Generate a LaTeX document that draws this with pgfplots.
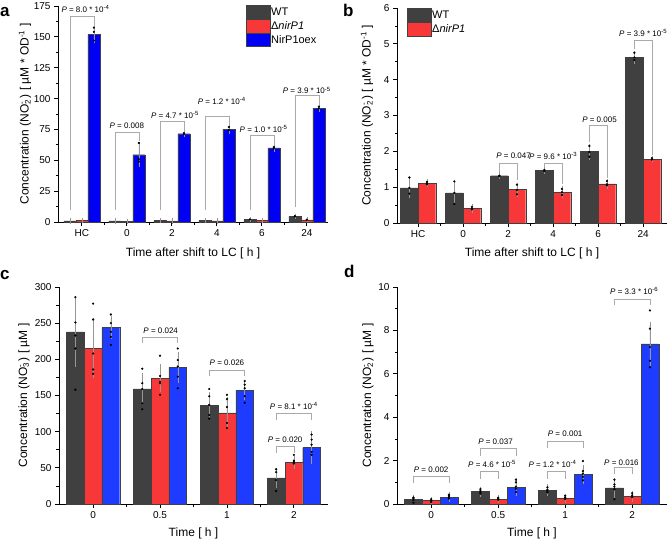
\documentclass[border=0pt]{standalone}
\usepackage{fontspec}
\setmainfont{Liberation Sans}
\usepackage{pgfplots}
\pgfplotsset{compat=1.18}
\definecolor{cwt}{RGB}{64,64,64}
\definecolor{cred}{RGB}{248,56,56}
\definecolor{cblueA}{RGB}{0,0,245}
\definecolor{cblue}{RGB}{30,60,255}
\definecolor{errc}{RGB}{150,150,150}
\definecolor{brc}{RGB}{170,170,170}
\pgfplotsset{
  panel/.style={scale only axis, axis x line=bottom, axis y line=left,
    axis line style={black, line width=0.8pt, -}, tick align=outside,
    tick style={black, line width=0.8pt}, major tick length=4pt, minor tick length=2.5pt,
    ticklabel style={font=\fontsize{10}{12}\selectfont},
    label style={font=\fontsize{12}{14}\selectfont},
    /pgf/number format/assume math mode=true, clip=false, ymin=0,
    minor y tick num=1,
    legend cell align=left,
    legend image code/.code={\fill[##1] (0pt,-6.75pt) rectangle (24pt,6.75pt);},
    legend style={draw=none, fill=none, inner sep=0pt, row sep=0pt,
      font=\fontsize{11}{13}\selectfont, nodes={inner sep=0.6pt}}},
  mybar/.style={ybar, bar width=#1, bar shift=0pt, draw=black!75, line width=0.4pt,
    error bars/.cd, y dir=both, y explicit,
    error bar style={errc, line width=0.5pt},
    error mark options={errc, mark size=2.5pt, line width=0.5pt}},
  dots/.style={only marks, mark=*, mark size=0.9pt, black, mark options={fill=black}, forget plot},
}
\newcommand{\brk}[8]{%
  \draw[brc, line width=0.6pt] (axis cs:#1,#2) -- (axis cs:#1,#5) -- (axis cs:#3,#5) -- (axis cs:#3,#4);
  \node[font=\fontsize{8}{9}\selectfont, inner sep=0pt, anchor=center] at (axis cs:#7,#6) {#8};}
\newcommand{\Pv}{\textit{P}}
\newcommand{\ylabA}{Concentration (NO\rlap{\textsubscript{2}}\textsuperscript{-}\kern0.25em) [ µM * OD\textsuperscript{-1} ]}
\begin{document}
\begin{tikzpicture}
\useasboundingbox (0,0) rectangle (667pt,542pt);
\node[anchor=base west, font=\fontsize{17}{20}\selectfont\bfseries, inner sep=0pt] at (0pt,525pt) {a};
\node[anchor=base west, font=\fontsize{17}{20}\selectfont\bfseries, inner sep=0pt] at (343pt,525pt) {b};
\node[anchor=base west, font=\fontsize{17}{20}\selectfont\bfseries, inner sep=0pt] at (0pt,263pt) {c};
\node[anchor=base west, font=\fontsize{17}{20}\selectfont\bfseries, inner sep=0pt] at (344pt,265pt) {d};

% ---------------- panel a
\begin{axis}[panel, at={(58pt,320pt)}, anchor=south west, width=270pt, height=216pt,
  xmin=-0.53, xmax=5.47, ymax=175, ytick={0,25,...,175},
  xtick={0,...,5}, xticklabels={HC,0,2,4,6,24}, minor xtick={0.5,1.5,2.5,3.5,4.5},
  ylabel={\ylabA}, xlabel={Time after shift to LC [ h ]},
  ylabel style={at={(axis description cs:-0.122,0.5)}, anchor=center},
  xlabel style={at={(axis description cs:0.5,-0.144)}, anchor=center},
  legend style={at={(axis description cs:0.696,1.005)}, anchor=north west}]
\addplot[fill=cwt, mybar=0.267] table[x=x, y=y, y error=e, row sep=\\]
  {x y e\\ -0.267 0.98 0.22\\ 0.733 0.84 0.27\\ 1.733 1.32 0.02\\ 2.733 1.46 0.02\\ 3.733 1.99 0.15\\ 4.733 4.62 0.1\\};
\addplot[fill=cred, mybar=0.267] table[x=x, y=y, y error=e, row sep=\\]
  {x y e\\ 0 1.11 0.04\\ 1 0.40 0.05\\ 2 0.93 0.13\\ 3 0.86 0.09\\ 4 1.09 0.06\\ 5 1.78 0.02\\};
\addplot[fill=cblueA, mybar=0.267] table[x=x, y=y, y error=e, row sep=\\]
  {x y e\\ 0.267 152 5\\ 1.267 54.5 8\\ 2.267 71.5 1\\ 3.267 75.3 2\\ 4.267 60 1\\ 5.267 92.3 1\\};
\addplot[dots] table[row sep=\\]
  {x y\\ 0.267 157.5\\ 0.267 154\\ 0.267 147\\ 1.267 64\\ 1.267 51\\ 1.267 49\\
   2.267 72\\ 2.267 71.2\\ 3.267 77\\ 3.267 74.5\\ 4.267 60.8\\ 4.267 59.6\\ 5.267 93.5\\ 5.267 92\\
   4.733 4.75\\ 4.733 4.55\\ 3.733 2.15\\ 5 1.8\\};
\legend{WT, Δ\textit{nirP1}, NirP1oex}
\brk{-0.267}{10}{0.267}{158.5}{167}{172.5}{0.08}{\Pv{} = 8.0 * 10\textsuperscript{-4}}
\brk{0.733}{10}{1.267}{66}{73}{78}{1.0}{\Pv{} = 0.008}
\brk{1.733}{10}{2.267}{74}{81.3}{86.7}{2.07}{\Pv{} = 4.7 * 10\textsuperscript{-5}}
\brk{2.733}{10}{3.267}{78.5}{85.3}{98}{3.11}{\Pv{} = 1.2 * 10\textsuperscript{-4}}
\brk{3.733}{10}{4.267}{62.5}{70}{75.4}{4.04}{\Pv{} = 1.0 * 10\textsuperscript{-5}}
\brk{4.733}{12}{5.267}{95}{102.4}{106.6}{5.0}{\Pv{} = 3.9 * 10\textsuperscript{-5}}
\end{axis}

% ---------------- panel b
\begin{axis}[panel, at={(397pt,319pt)}, anchor=south west, width=270pt, height=215pt,
  xmin=-0.47, xmax=5.53, ymax=6, ytick={0,...,6},
  xtick={0,...,5}, xticklabels={HC,0,2,4,6,24}, minor xtick={0.5,1.5,2.5,3.5,4.5},
  ylabel={\ylabA}, xlabel={Time after shift to LC [ h ]},
  ylabel style={at={(axis description cs:-0.111,0.5)}, anchor=center},
  xlabel style={at={(axis description cs:0.5,-0.14)}, anchor=center},
  legend style={at={(axis description cs:0.037,1.0)}, anchor=north west}]
\addplot[fill=cwt, mybar=0.39] table[x=x, y=y, y error=e, row sep=\\]
  {x y e\\ -0.195 0.98 0.22\\ 0.805 0.84 0.27\\ 1.805 1.32 0.02\\ 2.805 1.46 0.02\\ 3.805 1.99 0.15\\ 4.805 4.62 0.1\\};
\addplot[fill=cred, mybar=0.39] table[x=x, y=y, y error=e, row sep=\\]
  {x y e\\ 0.195 1.11 0.04\\ 1.195 0.40 0.05\\ 2.195 0.93 0.13\\ 3.195 0.86 0.09\\ 4.195 1.09 0.06\\ 5.195 1.78 0.02\\};
\addplot[dots] table[row sep=\\]
  {x y\\ -0.195 1.27\\ -0.195 0.82\\ -0.195 0.98\\ 0.195 1.15\\ 0.195 1.11\\ 0.195 1.08\\
   0.805 1.16\\ 0.805 0.53\\ 0.805 0.84\\ 1.195 0.45\\ 1.195 0.38\\ 1.195 0.40\\
   1.805 1.32\\ 1.805 1.31\\ 2.195 1.07\\ 2.195 0.80\\ 2.195 0.92\\
   2.805 1.48\\ 2.805 1.45\\ 3.195 0.95\\ 3.195 0.78\\ 3.195 0.86\\
   3.805 2.15\\ 3.805 1.85\\ 3.805 1.98\\ 4.195 1.17\\ 4.195 1.05\\ 4.195 1.08\\
   4.805 4.75\\ 4.805 4.55\\ 4.805 4.62\\ 5.195 1.81\\ 5.195 1.77\\};
\legend{WT, Δ\textit{nirP1}}
\brk{1.805}{1.42}{2.195}{1.2}{1.68}{1.88}{2.12}{\Pv{} = 0.047}
\brk{2.805}{1.55}{3.195}{1.1}{1.68}{1.88}{3.0}{\Pv{} = 9.6 * 10\textsuperscript{-3}}
\brk{3.805}{2.25}{4.195}{1.25}{2.72}{2.87}{4.03}{\Pv{} = 0.005}
\brk{4.805}{4.85}{5.195}{1.9}{5.11}{5.3}{5.0}{\Pv{} = 3.9 * 10\textsuperscript{-5}}
\end{axis}

% ---------------- panel c
\begin{axis}[panel, at={(59pt,38pt)}, anchor=south west, width=269pt, height=217pt,
  xmin=-0.51, xmax=3.51, ymax=300, ytick={0,50,...,300},
  xtick={0,...,3}, xticklabels={0,0.5,1,2}, minor xtick={0.5,1.5,2.5},
  ylabel={Concentration (NO\rlap{\textsubscript{3}}\textsuperscript{-}\kern0.25em) [ µM ]}, xlabel={Time [ h ]},
  ylabel style={at={(axis description cs:-0.13,0.5)}, anchor=center},
  xlabel style={at={(axis description cs:0.5,-0.134)}, anchor=center}]
\addplot[fill=cwt, mybar=0.265] table[x=x, y=y, y error=e, row sep=\\]
  {x y e\\ -0.265 238 45\\ 0.735 159 19\\ 1.735 136 15\\ 2.735 36 10\\};
\addplot[fill=cred, mybar=0.265] table[x=x, y=y, y error=e, row sep=\\]
  {x y e\\ 0 215 38\\ 1 174 16\\ 2 126 18\\ 3 57.5 5\\};
\addplot[fill=cblue, mybar=0.265] table[x=x, y=y, y error=e, row sep=\\]
  {x y e\\ 0.265 244 12\\ 1.265 189 18\\ 2.265 157 10\\ 3.265 78 19\\};
\addplot[dots] table[row sep=\\]
  {x y\\ -0.265 286\\ -0.265 251\\ -0.265 233\\ -0.265 215\\ -0.265 158\\
   0 277\\ 0 255\\ 0 208\\ 0 186\\ 0 180\\
   0.265 262\\ 0.265 250\\ 0.265 238\\ 0.265 231\\ 0.265 220\\
   0.735 187\\ 0.735 167\\ 0.735 159\\ 0.735 139\\ 0.735 131\\
   1 205\\ 1 169\\ 1 167\\ 1 151\\ 1 177\\
   1.265 215\\ 1.265 199\\ 1.265 176\\ 1.265 160\\ 1.265 190\\
   1.735 159\\ 1.735 149\\ 1.735 137\\ 1.735 123\\ 1.735 118\\
   2 151\\ 2 145\\ 2 134\\ 2 112\\ 2 105\\
   2.265 170\\ 2.265 160\\ 2.265 149\\ 2.265 140\\ 2.265 165\\
   2.735 48\\ 2.735 44\\ 2.735 33\\ 2.735 18\\
   3 68\\ 3 58\\ 3 56\\ 3 60\\
   3.265 96\\ 3.265 89\\ 3.265 72\\ 3.265 68\\ 3.265 82\\};
\brk{0.735}{222}{1.265}{222}{229.8}{239.4}{1.01}{\Pv{} = 0.024}
\brk{1.735}{177}{2.265}{177}{185}{195.5}{2.0}{\Pv{} = 0.026}
\brk{2.735}{71}{3}{71}{80}{89}{2.87}{\Pv{} = 0.020}
\brk{2.735}{116}{3.265}{116}{125.5}{135.6}{3.0}{\Pv{} = 8.1 * 10\textsuperscript{-4}}
\end{axis}

% ---------------- panel d
\begin{axis}[panel, at={(397pt,38pt)}, anchor=south west, width=270pt, height=217pt,
  xmin=-0.51, xmax=3.52, ymax=10, ytick={0,2,...,10},
  xtick={0,...,3}, xticklabels={0,0.5,1,2}, minor xtick={0.5,1.5,2.5},
  ylabel={Concentration (NO\rlap{\textsubscript{2}}\textsuperscript{-}\kern0.25em) [ µM ]}, xlabel={Time [ h ]},
  ylabel style={at={(axis description cs:-0.107,0.5)}, anchor=center},
  xlabel style={at={(axis description cs:0.5,-0.134)}, anchor=center}]
\addplot[fill=cwt, mybar=0.265] table[x=x, y=y, y error=e, row sep=\\]
  {x y e\\ -0.265 0.21 0.1\\ 0.735 0.57 0.12\\ 1.735 0.63 0.16\\ 2.735 0.74 0.34\\};
\addplot[fill=cred, mybar=0.265] table[x=x, y=y, y error=e, row sep=\\]
  {x y e\\ 0 0.17 0.06\\ 1 0.22 0.06\\ 2 0.25 0.1\\ 3 0.35 0.14\\};
\addplot[fill=cblue, mybar=0.265] table[x=x, y=y, y error=e, row sep=\\]
  {x y e\\ 0.265 0.32 0.12\\ 1.265 0.78 0.3\\ 2.265 1.37 0.32\\ 3.265 7.38 0.9\\};
\addplot[dots] table[row sep=\\]
  {x y\\ -0.265 0.25\\ -0.265 0.17\\ -0.265 0.06\\ -0.265 0.3\\
   0 0.22\\ 0 0.09\\ 0 0.15\\
   0.265 0.43\\ 0.265 0.32\\ 0.265 0.25\\ 0.265 0.38\\
   0.735 0.69\\ 0.735 0.6\\ 0.735 0.48\\ 0.735 0.55\\
   1 0.29\\ 1 0.2\\ 1 0.25\\
   1.265 1.12\\ 1.265 1.0\\ 1.265 0.8\\ 1.265 0.55\\ 1.265 0.7\\
   1.735 0.77\\ 1.735 0.66\\ 1.735 0.54\\ 1.735 0.6\\
   2 0.38\\ 2 0.23\\ 2 0.3\\
   2.265 1.98\\ 2.265 1.52\\ 2.265 1.25\\ 2.265 1.09\\ 2.265 1.4\\
   2.735 1.12\\ 2.735 0.9\\ 2.735 0.68\\ 2.735 0.22\\ 2.735 0.8\\
   3 0.5\\ 3 0.32\\ 3 0.4\\
   3.265 8.92\\ 3.265 8.08\\ 3.265 7.23\\ 3.265 6.6\\ 3.265 6.3\\};
\brk{-0.265}{0.97}{0.265}{0.97}{1.29}{1.6}{0.0}{\Pv{} = 0.002}
\brk{0.735}{2.2}{1.265}{2.2}{2.55}{2.86}{0.96}{\Pv{} = 0.037}
\brk{0.735}{1.17}{1}{1.17}{1.51}{1.86}{0.91}{\Pv{} = 4.6 * 10\textsuperscript{-5}}
\brk{1.735}{2.6}{2.265}{2.6}{2.91}{3.25}{2.0}{\Pv{} = 0.001}
\brk{1.735}{1.17}{2}{1.17}{1.51}{1.86}{1.81}{\Pv{} = 1.2 * 10\textsuperscript{-4}}
\brk{2.735}{1.37}{3}{1.37}{1.71}{1.91}{2.84}{\Pv{} = 0.016}
\brk{2.735}{9.15}{3.265}{9.15}{9.42}{9.82}{3.03}{\Pv{} = 3.3 * 10\textsuperscript{-6}}
\end{axis}
\end{tikzpicture}
\end{document}
